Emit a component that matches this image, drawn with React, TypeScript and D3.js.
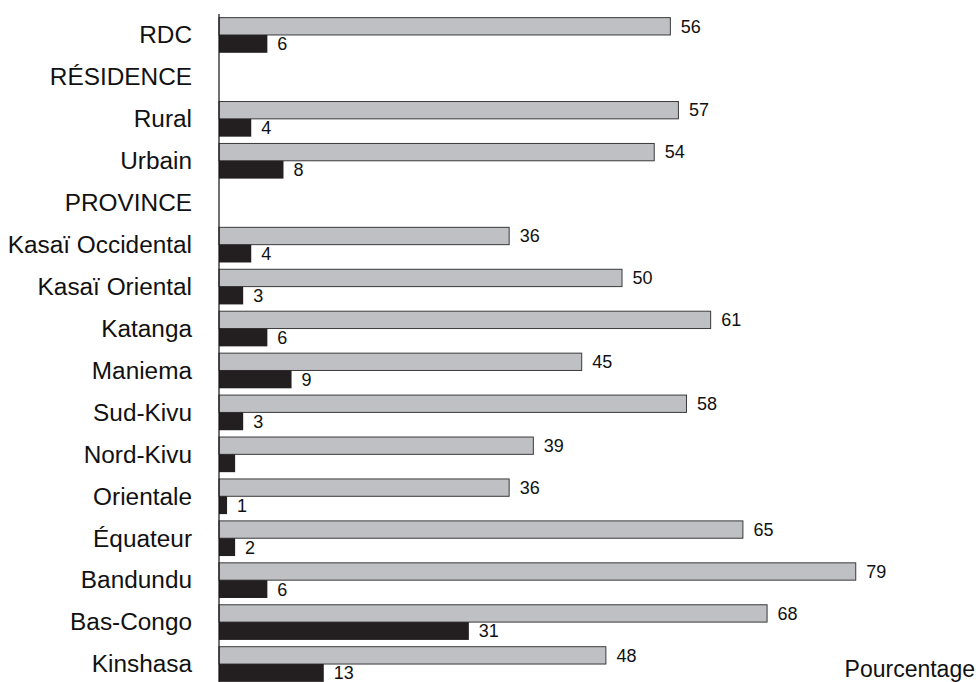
import React from "react";
import * as d3 from "d3";

const categories = [
  "RDC",
  "RÉSIDENCE",
  "Rural",
  "Urbain",
  "PROVINCE",
  "Kasaï Occidental",
  "Kasaï Oriental",
  "Katanga",
  "Maniema",
  "Sud-Kivu",
  "Nord-Kivu",
  "Orientale",
  "Équateur",
  "Bandundu",
  "Bas-Congo",
  "Kinshasa",
];

// null = header row (no bars)
const greyValues: (number | null)[] = [56, null, 57, 54, null, 36, 50, 61, 45, 58, 39, 36, 65, 79, 68, 48];
const blackValues: (number | null)[] = [6, null, 4, 8, null, 4, 3, 6, 9, 3, 2, 1, 2, 6, 31, 13];
// label shown for the black bar (Nord-Kivu has no label in the source)
const blackLabels: (string | null)[] = ["6", null, "4", "8", null, "4", "3", "6", "9", "3", null, "1", "2", "6", "31", "13"];
const greyLabels: (string | null)[] = greyValues.map((v) => (v == null ? null : String(v)));

const xAxisTitle = "Pourcentage";

const W = 979;
const H = 682;
const X0 = 219;
const PX_PER_UNIT = 8.06;
const FONT = "'Liberation Sans', Arial, Helvetica, sans-serif";

export default function App() {
  const x = d3.scaleLinear().domain([0, 100]).range([X0, X0 + PX_PER_UNIT * 100]);
  const y = d3
    .scaleBand<string>()
    .domain(categories)
    .range([14, 685])
    .paddingInner(0.15)
    .paddingOuter(0.075);
  const bw = y.bandwidth();
  const half = bw / 2;

  return (
    <svg
      width={W}
      height={H}
      viewBox={`0 0 ${W} ${H}`}
      style={{ position: "fixed", left: 0, top: 0, background: "#fff" }}
      fontFamily={FONT}
    >
      {categories.map((c, i) => {
        const y0 = y(c)!;
        const g = greyValues[i];
        const b = blackValues[i];
        return (
          <g key={c}>
            <text
              transform={`translate(192,${y0 + half}) scale(1.06,1)`}
              dy="0.36em"
              textAnchor="end"
              fontSize={23}
              fill="#111"
            >
              {c}
            </text>
            {g != null && (
              <rect
                x={x(0)}
                y={y0 + 0.5}
                width={x(g) - x(0)}
                height={half - 0.5}
                fill="#bfc0c4"
                stroke="#3a3a3a"
                strokeWidth={1}
              />
            )}
            {greyLabels[i] != null && g != null && (
              <text x={x(g) + 10.5} y={y0 + half / 2} dy="0.36em" fontSize={18} fill="#111">
                {greyLabels[i]}
              </text>
            )}
            {b != null && (
              <rect
                x={x(0)}
                y={y0 + half}
                width={x(b) - x(0)}
                height={half}
                fill="#231f20"
              />
            )}
            {blackLabels[i] != null && b != null && (
              <text x={x(b) + 10} y={y0 + half + half / 2} dy="0.36em" fontSize={18} fill="#111">
                {blackLabels[i]}
              </text>
            )}
          </g>
        );
      })}
      <line x1={X0} x2={X0} y1={14} y2={H} stroke="#111" strokeWidth={1.2} />
      <text x={975} y={677} textAnchor="end" fontSize={23} fill="#111">
        {xAxisTitle}
      </text>
    </svg>
  );
}
